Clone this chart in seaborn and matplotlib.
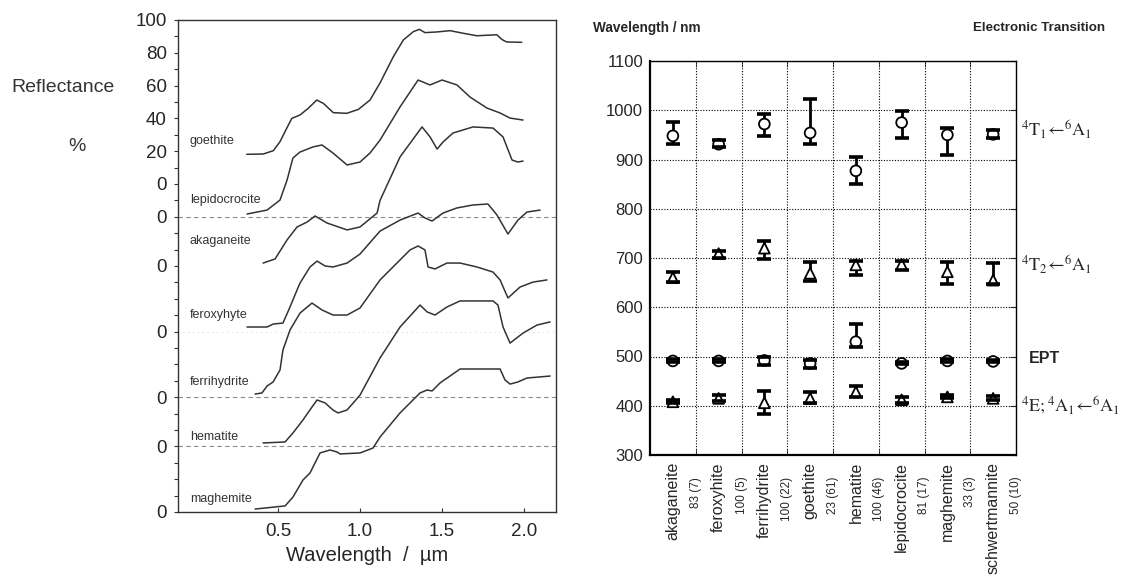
import numpy as np
import pandas as pd
import matplotlib
matplotlib.use("Agg")
import matplotlib.pyplot as plt
import seaborn as sns

# -------------------------------
# Left panel: offset reflectance spectra (wavelength in um, reflectance in %)
# -------------------------------
goethite_wl = [0.309, 0.410, 0.471, 0.512, 0.553, 0.584, 0.634, 0.685, 0.736, 0.776, 0.837, 0.919, 0.990,
               1.061, 1.122, 1.203, 1.264, 1.325, 1.362, 1.396, 1.468, 1.549, 1.630, 1.712, 1.834, 1.864,
               1.894, 1.986]
goethite_r = [18.1, 18.3, 20.3, 25.8, 34.0, 40.0, 42.1, 46.2, 51.2, 49.2, 43.5, 43.1, 45.5,
              51.2, 61.6, 77.6, 87.8, 92.9, 94.3, 92.3, 92.7, 93.5, 91.9, 90.4, 91.0, 88.2,
              86.6, 86.4]

lepidocrocite_wl = [0.311, 0.433, 0.512, 0.555, 0.591, 0.634, 0.713, 0.768, 0.835, 0.921, 1.000, 1.061,
                    1.122, 1.244, 1.354, 1.427, 1.500, 1.591, 1.671, 1.774, 1.854, 1.915, 1.994]
lepidocrocite_r = [1.7, 4.1, 10.2, 22.4, 35.9, 39.5, 42.6, 43.8, 38.9, 31.6, 33.4, 38.9,
                   46.8, 67.0, 83.4, 80.4, 83.4, 80.4, 73.0, 66.3, 63.3, 60.2, 59.0]

akaganeite_wl = [0.409, 0.482, 0.555, 0.616, 0.677, 0.726, 0.799, 0.921, 1.000, 1.104, 1.122, 1.244,
                 1.378, 1.427, 1.470, 1.506, 1.567, 1.689, 1.811, 1.872, 1.927, 1.963, 1.994]
akaganeite_r = [1.8, 4.3, 15.9, 23.8, 26.8, 30.5, 26.2, 22.0, 23.8, 32.3, 40.0, 66.5,
                84.8, 78.7, 71.3, 75.6, 81.1, 84.8, 84.1, 78.7, 64.6, 63.4, 64.0]

feroxyhyte_wl = [0.311, 0.433, 0.470, 0.530, 0.573, 0.616, 0.634, 0.695, 0.738, 0.787, 0.835, 0.921,
                 1.000, 1.122, 1.244, 1.354, 1.396, 1.439, 1.506, 1.591, 1.689, 1.780, 1.835, 1.902,
                 1.963, 2.018, 2.098]
feroxyhyte_r = [2.8, 2.8, 4.6, 5.2, 15.0, 25.4, 29.6, 39.4, 43.0, 40.0, 39.4, 41.8,
                47.3, 61.3, 68.0, 72.3, 69.3, 67.4, 72.3, 75.4, 77.2, 77.8, 71.1, 59.5,
                68.0, 72.9, 74.1]

ferrihydrite_wl = [0.360, 0.402, 0.433, 0.470, 0.512, 0.530, 0.573, 0.634, 0.707, 0.768, 0.835, 0.921,
                   1.000, 1.122, 1.201, 1.305, 1.354, 1.396, 1.415, 1.457, 1.530, 1.610, 1.713, 1.811,
                   1.854, 1.902, 1.976, 2.055, 2.140]
ferrihydrite_r = [1.9, 2.6, 6.8, 9.3, 16.6, 28.8, 41.0, 51.3, 57.4, 53.2, 50.1, 50.1,
                  54.4, 71.5, 79.4, 89.8, 92.2, 89.8, 79.4, 78.2, 81.8, 81.8, 79.4, 76.3,
                  71.5, 60.5, 67.2, 70.2, 71.5]

hematite_wl = [0.409, 0.543, 0.591, 0.652, 0.707, 0.738, 0.787, 0.835, 0.866, 0.921, 1.000, 1.122,
               1.244, 1.366, 1.409, 1.457, 1.530, 1.610, 1.811, 1.841, 1.872, 1.915, 1.994, 2.079,
               2.159]
hematite_r = [2.1, 2.7, 8.2, 16.1, 24.0, 28.3, 26.5, 22.2, 20.4, 22.2, 31.3, 53.9,
              72.8, 86.2, 82.0, 80.1, 85.0, 88.7, 88.7, 86.2, 72.8, 63.0, 69.1, 74.0,
              75.9]

maghemite_wl = [0.360, 0.543, 0.591, 0.652, 0.695, 0.756, 0.817, 0.860, 0.878, 1.000, 1.079, 1.122,
                1.244, 1.366, 1.409, 1.439, 1.488, 1.610, 1.854, 1.884, 1.915, 1.963, 2.018, 2.159]
maghemite_r = [1.8, 3.7, 9.1, 19.5, 23.8, 36.0, 37.8, 36.6, 35.4, 36.0, 39.0, 45.7,
               60.4, 72.6, 74.4, 73.8, 78.7, 87.2, 87.2, 80.5, 78.0, 79.3, 81.7, 82.9]

spectra_names = ["goethite", "lepidocrocite", "akaganeite", "feroxyhyte", "ferrihydrite", "hematite", "maghemite"]
spectra_wl = [goethite_wl, lepidocrocite_wl, akaganeite_wl, feroxyhyte_wl, ferrihydrite_wl, hematite_wl, maghemite_wl]
spectra_r = [goethite_r, lepidocrocite_r, akaganeite_r, feroxyhyte_r, ferrihydrite_r, hematite_r, maghemite_r]
spectra_offset = [200, 180, 150, 110, 70, 40, 0]
label_y = [226, 190, 165, 120, 79, 46, 8]

ytick_pos = [0, 40, 70, 110, 150, 180, 200, 220, 240, 260, 280, 300]
ytick_lab = ["0", "0", "0", "0", "0", "0", "0", "20", "40", "60", "80", "100"]

# -------------------------------
# Right panel: band positions (nm), mean with min/max
# -------------------------------
minerals = ["akaganeite", "feroxyhite", "ferrihydrite", "goethite", "hematite",
            "lepidocrocite", "maghemite", "schwertmannite"]
counts = ["83 (7)", "100 (5)", "100 (22)", "23 (61)", "100 (46)", "81 (17)", "33 (3)", "50 (10)"]

t1_mean = [948, 931, 972, 954, 877, 975, 950, 951]
t1_lo = [931, 926, 948, 931, 850, 944, 910, 943]
t1_hi = [976, 940, 992, 1023, 906, 998, 963, 960]

t2_mean = [660, 709, 720, 669, 686, 687, 672, 655]
t2_lo = [652, 701, 697, 654, 665, 675, 648, 647]
t2_hi = [672, 715, 735, 691, 694, 694, 692, 689]

ept_mean = [491, 491, 492, 486, 530, 486, 491, 490]
ept_lo = [488, 488, 483, 476, 520, 484, 488, 488]
ept_hi = [494, 494, 498, 493, 566, 488, 494, 492]

ea_mean = [408, 415, 406, 415, 428, 412, 418, 415]
ea_lo = [405, 409, 383, 406, 418, 406, 415, 411]
ea_hi = [411, 421, 429, 427, 440, 418, 421, 419]

band_labels = [r"$^{4}\mathrm{T}_{1}\!\leftarrow\!{}^{6}\mathrm{A}_{1}$",
               r"$^{4}\mathrm{T}_{2}\!\leftarrow\!{}^{6}\mathrm{A}_{1}$",
               "EPT",
               r"$^{4}\mathrm{E};{}^{4}\mathrm{A}_{1}\!\leftarrow\!{}^{6}\mathrm{A}_{1}$"]
band_label_y = [960, 686, 495, 402]

# -------------------------------
# Style
# -------------------------------
sns.set_style("white")
plt.rcParams["font.family"] = ["Liberation Sans", "DejaVu Sans"]
plt.rcParams["mathtext.fontset"] = "stix"

fig = plt.figure(figsize=(11.21, 5.76), dpi=100)
ink = "#333333"

# -------------------------------
# Left panel
# -------------------------------
ax1 = fig.add_axes([178 / 1121, 64 / 576, 378 / 1121, 492 / 576])
rows = []
for name, wl, r, off in zip(spectra_names, spectra_wl, spectra_r, spectra_offset):
    for w, v in zip(wl, r):
        rows.append({"mineral": name, "wl": w, "y": v + off})
spec_df = pd.DataFrame(rows)
sns.lineplot(data=spec_df, x="wl", y="y", units="mineral", estimator=None, sort=False,
             color=ink, linewidth=1.1, ax=ax1)

for off in [180, 70, 40]:
    ax1.axhline(off, color="#8a8a8a", linewidth=0.8, dashes=(4, 3), zorder=1)
ax1.axhline(110, color="#d0d0d0", linewidth=0.7, dashes=(1, 4), zorder=1)

for name, yy in zip(spectra_names, label_y):
    ax1.text(-0.037, yy, name, fontsize=9, color=ink, ha="left", va="center")

ax1.set_xlim(-0.11, 2.195)
ax1.set_ylim(0, 300)
ax1.set_xticks([0.5, 1.0, 1.5, 2.0])
ax1.set_xticklabels(["0.5", "1.0", "1.5", "2.0"], fontsize=13.5)
ax1.set_yticks(ytick_pos)
ax1.set_yticklabels(ytick_lab, fontsize=13.5)
ax1.set_yticks(np.arange(0, 301, 10), minor=True)
ax1.tick_params(axis="y", which="both", left=True, direction="out", length=3, width=0.8,
                color=ink, pad=5)
ax1.tick_params(axis="x", which="major", bottom=True, direction="in", length=3, width=0.8,
                color=ink, pad=8)
ax1.set_xlabel("Wavelength  /  µm", fontsize=14.5, labelpad=4)
ax1.set_ylabel("")
for s in ax1.spines.values():
    s.set_color(ink)
    s.set_linewidth(1.0)

fig.text(63 / 1121, 1 - 88 / 576, "Reflectance", fontsize=14, ha="center", va="center", color=ink)
fig.text(77 / 1121, 1 - 147 / 576, "%", fontsize=14, ha="center", va="center", color=ink)

# -------------------------------
# Right panel
# -------------------------------
ax2 = fig.add_axes([650 / 1121, 121 / 576, 366 / 1121, 394 / 576])
pos = np.arange(len(minerals))

bands = [(t1_mean, t1_lo, t1_hi, "o"), (t2_mean, t2_lo, t2_hi, "^"),
         (ept_mean, ept_lo, ept_hi, "o"), (ea_mean, ea_lo, ea_hi, "^")]
pts = []
for mean, lo, hi, mk in bands:
    mean = np.array(mean)
    err = [mean - np.array(lo), np.array(hi) - mean]
    eb = ax2.errorbar(pos, mean, yerr=err, fmt="none", ecolor="black", elinewidth=2.0,
                      capsize=4.8, capthick=2.6, zorder=2)
    for cl in eb[1]:
        cl.set_zorder(4)
    for p, m in zip(pos, mean):
        pts.append({"pos": p, "nm": m, "shape": "circle" if mk == "o" else "triangle"})
pts_df = pd.DataFrame(pts)
sns.scatterplot(data=pts_df, x="pos", y="nm", style="shape",
                markers={"circle": "o", "triangle": "^"}, s=60, color="white",
                edgecolor="black", linewidth=1.3, legend=False, zorder=3, ax=ax2)

ax2.set_xlim(-0.5, 7.5)
ax2.set_ylim(300, 1100)
ax2.set_yticks(np.arange(300, 1101, 100))
ax2.set_yticklabels([str(v) for v in range(300, 1101, 100)], fontsize=12)
ax2.set_xticks([])
ax2.set_xticks(np.arange(0.5, 7.5, 1), minor=True)
ax2.grid(False)
ax2.grid(which="major", axis="y", linestyle=(0, (1, 1.5)), color="black", linewidth=0.8)
ax2.grid(which="minor", axis="x", linestyle=(0, (1, 1.5)), color="black", linewidth=0.8)
ax2.tick_params(axis="y", which="major", left=False, right=True, direction="in", length=4, pad=5)
ax2.tick_params(axis="x", which="minor", bottom=True, top=True, direction="in", length=4)
ax2.set_xlabel("")
ax2.set_ylabel("")
for side, s in ax2.spines.items():
    s.set_color("black")
    s.set_linewidth(1.6 if side in ("left", "bottom") else 1.0)

for p, name, cnt in zip(pos, minerals, counts):
    ax2.text(p, -0.018, name, transform=ax2.get_xaxis_transform(), rotation=90,
             ha="center", va="top", fontsize=11.5)
    ax2.text(p + 0.5, -0.055, cnt, transform=ax2.get_xaxis_transform(), rotation=90,
             ha="center", va="top", fontsize=8.5)

for lab, yy in zip(band_labels, band_label_y):
    if lab == "EPT":
        ax2.text(7.78, yy, lab, fontsize=11.5, fontweight="black", ha="left", va="center",
                 clip_on=False)
    else:
        ax2.text(7.6, yy, lab, fontsize=13, ha="left", va="center", clip_on=False)

fig.text(593 / 1121, 1 - 28 / 576, "Wavelength / nm", fontsize=9.8, fontweight="bold",
         ha="left", va="center")
fig.text(1105 / 1121, 1 - 28 / 576, "Electronic Transition", fontsize=9.6, fontweight="bold",
         ha="right", va="center")

fig.savefig("out.png", dpi=100)
